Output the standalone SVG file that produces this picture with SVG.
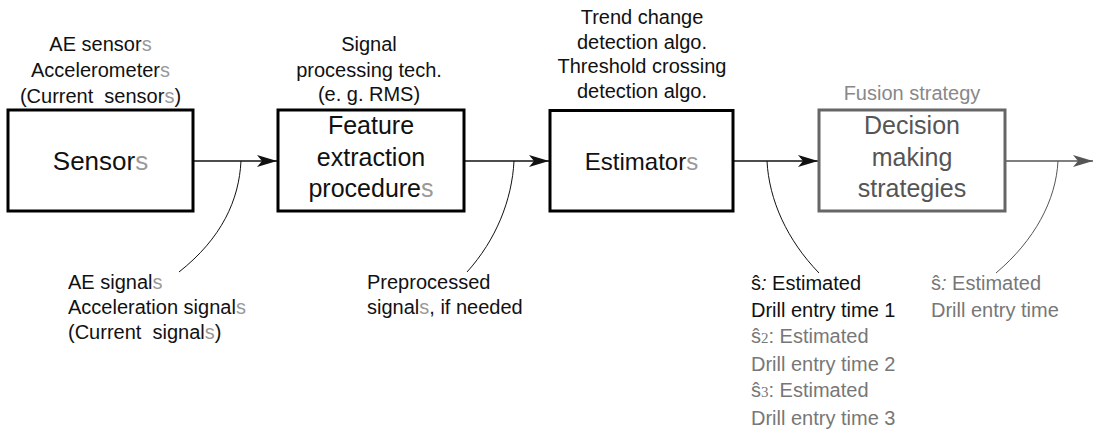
<svg xmlns="http://www.w3.org/2000/svg" width="1094" height="435" viewBox="0 0 1094 435">
<style>
text{font-family:"Liberation Sans",Arial,sans-serif;fill:#111}
.lbl{font-size:20px}
.box{font-size:25px;text-anchor:middle}
.c{text-anchor:middle}
.g{fill:#999}
.gr{fill:#777}
.dk{fill:#555}
.node{fill:#fff;stroke:#000;stroke-width:3}
.node.gray{stroke:#666}
.conn{stroke:#111;stroke-width:1.4;fill:none}
.conn.gray{stroke:#555}
.lead{stroke:#111;stroke-width:1;fill:none}
.lead.gray{stroke:#555}
.sub{font-family:"Liberation Serif","DejaVu Serif",serif;font-size:15px}
</style>
<defs>
<marker id="ah" markerUnits="userSpaceOnUse" markerWidth="21" markerHeight="13" refX="20" refY="6" orient="auto" viewBox="0 0 21 13">
<path d="M0,0 L20,6 L0,12 L5,6 z" fill="#111"/>
</marker>
<marker id="ahg" markerUnits="userSpaceOnUse" markerWidth="21" markerHeight="13" refX="20" refY="6" orient="auto" viewBox="0 0 21 13">
<path d="M0,0 L20,6 L0,12 L5,6 z" fill="#555"/>
</marker>
</defs>

<g id="connectors">
<line class="conn" x1="194" y1="161" x2="277" y2="161" marker-end="url(#ah)"/>
<line class="conn" x1="465" y1="161" x2="549" y2="161" marker-end="url(#ah)"/>
<line class="conn" x1="734" y1="161" x2="818" y2="161" marker-end="url(#ah)"/>
<line class="conn gray" x1="1006" y1="161" x2="1093" y2="161" marker-end="url(#ahg)"/>
<path class="lead" d="M241,161 C239,200 222,238 179,272"/>
<path class="lead" d="M514,161 C512,200 496,240 467,272"/>
<path class="lead" d="M767,161 C769,200 787,240 819,273"/>
<path class="lead gray" d="M1058,161 C1056,200 1035,240 996,273"/>
</g>

<g id="sensors">
<rect class="node" x="8" y="110" width="185" height="101"/>
<text class="box" x="100.5" y="170" style="font-size:26px">Sensor<tspan class="g">s</tspan></text>
<text class="lbl c" x="100.5" y="51">AE sensor<tspan class="g">s</tspan></text>
<text class="lbl c" x="100.5" y="77">Accelerometer<tspan class="g">s</tspan></text>
<text class="lbl c" x="100.5" y="102.5">(Current&#160; sensor<tspan class="g">s</tspan>)</text>
</g>

<g id="feature-extraction">
<rect class="node" x="278" y="110" width="186" height="101"/>
<text class="box" x="371" y="134">Feature</text>
<text class="box" x="371" y="166">extraction</text>
<text class="box" x="371" y="197">procedure<tspan class="g">s</tspan></text>
<text class="lbl c" x="369" y="51">Signal</text>
<text class="lbl c" x="369" y="77">processing tech.</text>
<text class="lbl c" x="369" y="101">(e. g. RMS)</text>
</g>

<g id="estimators">
<rect class="node" x="550" y="110.5" width="183" height="100.5"/>
<text class="box" x="641.5" y="170" style="font-size:24px">Estimator<tspan class="g">s</tspan></text>
<text class="lbl c" x="642" y="24">Trend change</text>
<text class="lbl c" x="642" y="48.5">detection algo.</text>
<text class="lbl c" x="642" y="73">Threshold crossing</text>
<text class="lbl c" x="642" y="97.5">detection algo.</text>
</g>

<g id="decision">
<rect class="node gray" x="819" y="110" width="186" height="101"/>
<text class="box dk" x="912" y="134">Decision</text>
<text class="box dk" x="912" y="166">making</text>
<text class="box dk" x="912" y="197">strategies</text>
<text class="lbl c" x="912" y="100" style="fill:#888">Fusion strategy</text>
</g>

<g id="labels">
<text class="lbl" x="68" y="289">AE signal<tspan class="g">s</tspan></text>
<text class="lbl" x="68" y="314">Acceleration signal<tspan class="g">s</tspan></text>
<text class="lbl" x="68" y="338.5">(Current&#160; signal<tspan class="g">s</tspan>)</text>

<text class="lbl" x="367" y="289">Preprocessed</text>
<text class="lbl" x="367" y="314">signal<tspan class="g">s</tspan>, if needed</text>

<text class="lbl" x="751" y="290">ŝ<tspan font-style="italic">:</tspan> Estimated</text>
<text class="lbl" x="751" y="316.5">Drill entry time 1</text>
<text class="lbl gr" x="751" y="343">ŝ<tspan class="sub gr">2</tspan>: Estimated</text>
<text class="lbl gr" x="751" y="370.5">Drill entry time 2</text>
<text class="lbl gr" x="751" y="397">ŝ<tspan class="sub gr">3</tspan>: Estimated</text>
<text class="lbl gr" x="751" y="425">Drill entry time 3</text>

<text class="lbl gr" x="931" y="290">ŝ<tspan font-style="italic">:</tspan> Estimated</text>
<text class="lbl gr" x="931" y="316.5">Drill entry time</text>
</g>
</svg>
